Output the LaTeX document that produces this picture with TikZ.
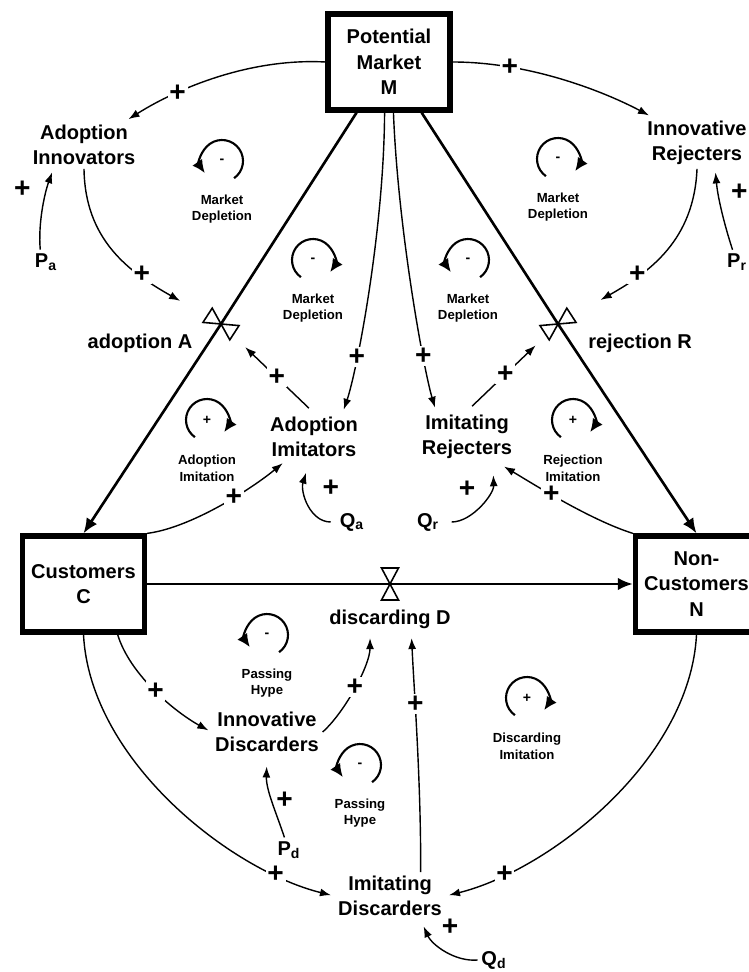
\documentclass[tikz,border=0pt]{standalone}
\usepackage{fontspec}
\setmainfont{Liberation Sans}
\usetikzlibrary{arrows.meta}

\begin{document}
\begin{tikzpicture}[
    x=0.02cm, y=-0.02cm,
    font=\bfseries\fontsize{11.4}{14.5}\selectfont,
    stock/.style={draw, line width=3pt, minimum width=2.44cm, minimum height=1.92cm, align=center, inner sep=1pt},
    aux/.style={align=center, inner sep=2pt},
    param/.style={inner sep=2pt},
    pipe/.style={line width=1.5pt, -{Latex[length=3mm, width=2.5mm]}},
    valve/.style={line width=0.9pt},
    link/.style={line width=0.8pt, -{Latex[length=2.2mm, width=1.6mm]}, shorten >=2pt},
    pm/.style={font=\bfseries\fontsize{16}{16}\selectfont, inner sep=1pt, fill=white},
    pmside/.style={pm, fill=none},
    loopsign/.style={font=\bfseries\fontsize{8}{8}\selectfont, inner sep=0pt},
    looplabel/.style={font=\bfseries\fontsize{7.5}{9.5}\selectfont, align=center, inner sep=1pt},
    looparc/.style={line width=1.2pt, -{Latex[length=2.6mm, width=2.4mm]}}
]
\useasboundingbox (0,0) rectangle (749,972);

% stocks
\node[stock] (M) at (389,62) {Potential\\Market\\M};
\node[stock] (C) at (83.5,584) {Customers\\C};
\node[stock] (N) at (696.5,584) {Non-\\Customers\\N};

% flows
\coordinate (vA) at (221,324);
\coordinate (vR) at (558,324);
\coordinate (vD) at (390,584);
\draw[pipe] (M) -- (vA) -- (C.north);
\draw[pipe] (M) -- (vR) -- (N.north);
\draw[pipe] (C) -- (vD) -- (N);
\foreach \v/\r in {vA/147, vR/33, vD/90}
  \draw[valve, shift={(\v)}, rotate=\r] (0,0) -- (0.32cm,0.17cm) -- (0.32cm,-0.17cm) -- cycle
    (0,0) -- (-0.32cm,0.17cm) -- (-0.32cm,-0.17cm) -- cycle;
\node (adopt) at (140,343) {adoption A};
\node (reject) at (640,343) {rejection R};
\node (discard) at (390,619) {discarding D};

% auxiliaries and parameters
\node[aux] (AdInn) at (84,145) {Adoption\\Innovators};
\node[aux] (InRej) at (697,143) {Innovative\\Rejecters};
\node[aux] (AdImi) at (314,437) {Adoption\\Imitators};
\node[aux] (ImRej) at (467,437) {Imitating\\Rejecters};
\node[aux] (InDis) at (267,732) {Innovative\\Discarders};
\node[aux] (ImDis) at (390,896) {Imitating\\Discarders};
\node[param] (Pa) at (46,262) {P\textsubscript{a}};
\node[param] (Pr) at (737,262) {P\textsubscript{r}};
\node[param] (Pd) at (289,850) {P\textsubscript{d}};
\node[param] (Qa) at (352,522) {Q\textsubscript{a}};
\node[param] (Qr) at (428,522) {Q\textsubscript{r}};
\node[param] (Qd) at (494,960) {Q\textsubscript{d}};

% feedback loops
\foreach \nm/\px/\py/\sg/\sa/\ea/\lb in {
    l1/222/161/-/-55/215/{Market\\Depletion},
    l2/558/159/-/235/-35/{Market\\Depletion},
    l3/313/260/-/235/-35/{Market\\Depletion},
    l4/468/260/-/-55/215/{Market\\Depletion},
    l5/207/420/+/235/-35/{Adoption\\Imitation},
    l6/573/420/+/235/-35/{Rejection\\Imitation},
    l7/267/635/-/-55/215/{Passing\\Hype},
    l8/360/765/-/-55/215/{Passing\\Hype},
    l9/527/698/+/235/-35/{Discarding\\Imitation}}
{
  \node[loopsign] (\nm) at (\px,\py) {\sg};
  \draw[looparc] (\nm.center) ++(\sa:0.42cm) arc[start angle=\sa, end angle=\ea, radius=0.42cm];
  \node[looplabel] (lab\nm) at (\px,{\py+48}) {\lb};
}

% links
\draw[link] (M.west) .. controls (250,58) and (178,88) .. (AdInn.30) node[pm, pos=0.7] (s1) {+};
\draw[link] (M.east) .. controls (530,62) and (605,92) .. (InRej.150) node[pm, pos=0.25] (s2) {+};
\draw[link] (Pa.115) .. controls (38,225) and (44,195) .. (AdInn.218) node[pmside, pos=0.75, xshift=-14pt] (s3) {+};
\draw[link] (Pr.110) .. controls (726,230) and (718,200) .. (InRej.305) node[pmside, pos=0.75, xshift=12pt] (s4) {+};
\draw[link, shorten >=0.94cm] (AdInn.south) .. controls (85,240) and (129,272) .. (vA) node[pm, pos=0.65] (s5) {+};
\draw[link, shorten >=0.98cm] (InRej.south) .. controls (694,240) and (650,272) .. (vR) node[pm, pos=0.65] (s6) {+};
\draw[link] (M.265) .. controls (384,230) and (357,371) .. (AdImi.40) node[pm, pos=0.72] (s7) {+};
\draw[link] (M.275) .. controls (398,230) and (424,371) .. (ImRej.140) node[pm, pos=0.72] (s8) {+};
\draw[link, shorten >=0.67cm, shorten <=4pt] (AdImi.north) -- (vA) node[pm, pos=0.4] (s9) {+};
\draw[link, shorten >=0.62cm, shorten <=4pt] (ImRej.north) -- (vR) node[pm, pos=0.42] (s10) {+};
\draw[link] (C.north east) .. controls (190,528) and (250,490) .. (AdImi.220) node[pm, pos=0.6] (s11) {+};
\draw[link, shorten >=7pt, shorten <=3pt] (Qa.west) .. controls (310,522) and (300,492) .. (AdImi.260) node[pmside, pos=0.7, xshift=14pt] (s12) {+};
\draw[link, shorten >=7pt, shorten <=5pt] (Qr.east) .. controls (472,522) and (494,494) .. (ImRej.315) node[pmside, pos=0.7, xshift=-12pt] (s13) {+};
\draw[link, shorten >=4pt] (N.north west) .. controls (590,520) and (530,482) .. (ImRej.320) node[pm, pos=0.57] (s14) {+};
\draw[link] (C.304) .. controls (130,675) and (175,712) .. (InDis.west) node[pm, pos=0.5] (s15) {+};
\draw[link] (InDis.east) .. controls (345,712) and (370,665) .. (discard.218) node[pm, pos=0.5] (s16) {+};
\draw[link] (ImDis.38) .. controls (421,780) and (414,690) .. (discard.324) node[pm, pos=0.65] (s17) {+};
\draw[link, shorten >=6pt] (Pd.110) .. controls (276,812) and (266,790) .. (InDis.270) node[pmside, pos=0.5, xshift=7pt] (s18) {+};
\draw[link] (C.south) .. controls (90,760) and (230,870) .. (ImDis.west) node[pm, pos=0.82] (s19) {+};
\draw[link] (N.south) .. controls (690,760) and (550,870) .. (ImDis.east) node[pm, pos=0.82] (s20) {+};
\draw[link, shorten >=4pt] (Qd.west) .. controls (455,962) and (432,945) .. (ImDis.322) node[pmside, pos=0.5, xshift=3pt, yshift=13pt] (s21) {+};
\end{tikzpicture}
\end{document}
